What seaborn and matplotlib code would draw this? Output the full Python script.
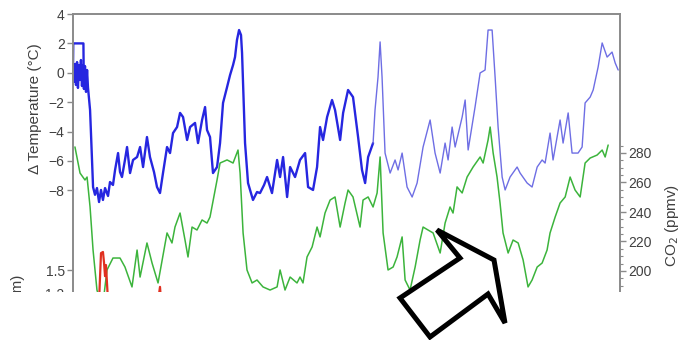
import numpy as np
import pandas as pd
import matplotlib
matplotlib.use("Agg")
import matplotlib.pyplot as plt
from matplotlib.patches import Rectangle, Polygon
from matplotlib.ticker import FixedLocator
import seaborn as sns

# Vostok-style ice core record, age in kyr before present
temp_age = [0.0, 0.2, 8.0, 8.2, 1.0, 1.6, 2.3, 3.1, 3.8, 4.6, 5.4, 6.1, 6.9, 7.6, 8.4, 9.2, 10.0,
            10.8, 11.5, 13.1, 13.8, 15.4, 16.9, 18.4, 20.0, 21.5, 23.0, 24.6, 26.9, 28.4, 30.7,
            32.3, 34.6, 36.1, 37.6, 39.9, 41.5, 43.8, 46.1, 49.2, 51.5, 53.8, 56.8, 59.1, 62.2,
            64.5, 66.8, 69.1, 72.2, 74.5, 76.8, 79.9, 82.2, 84.5, 87.6, 89.9, 93.7, 96.0, 99.1,
            101.4, 102.9, 105.2, 107.5, 110.6, 112.9, 115.2, 118.3, 120.6, 122.9, 124.4, 125.9,
            127.5, 129.0, 129.8, 132.1, 134.4, 138.2, 141.3, 143.6, 146.7, 149.0, 152.8, 156.7,
            159.0, 161.3, 164.4, 166.7, 170.5, 174.3, 178.2, 180.5, 184.3, 187.4, 189.7, 192.0,
            195.1, 198.9, 201.2, 205.1, 207.4, 211.2, 215.0, 218.9, 221.9, 224.3, 226.6, 230.4,
            231.9, 234.2, 235.8, 237.3, 239.6, 243.5, 247.3, 249.6, 252.7, 256.5, 260.4, 264.2,
            268.8, 274.2, 278.0, 281.9, 285.7, 288.0, 291.1, 293.4, 298.8, 301.1, 303.4, 308.7,
            312.6, 316.4, 318.7, 321.8, 324.1, 326.4, 329.5, 331.8, 335.6, 341.0, 343.3, 348.7,
            352.5, 356.4, 360.2, 362.5, 366.3, 368.6, 374.0, 376.3, 380.2, 383.2, 387.8, 390.9,
            393.2, 397.1, 399.4, 403.2, 406.3, 410.1, 413.9, 416.3, 418.6]
temp_val = [0.3, 2.0, 2.0, 0.2, -0.6, 0.6, -0.83, 0.73, -1.03, 0.53, -0.49, 0.87, -0.9, 0.5,
            -1.1, 0.46, -1.3, 0.19, -1.0, -2.53, -4.1, -7.77, -8.3, -7.84, -8.79, -7.97, -8.65,
            -7.84, -8.38, -7.43, -7.63, -6.61, -5.46, -6.75, -7.09, -5.93, -5.05, -6.82, -5.93,
            -5.73, -5.05, -6.41, -4.37, -5.73, -6.75, -7.77, -8.18, -6.82, -5.05, -5.46, -4.1,
            -3.69, -2.73, -3.01, -4.57, -3.69, -3.41, -4.78, -3.21, -2.33, -3.89, -4.37, -6.82,
            -6.41, -4.78, -2.05, -0.97, -0.15, 0.53, 1.07, 2.23, 2.91, 2.57, 1.35, -4.78, -7.5,
            -8.65, -8.11, -8.18, -7.63, -7.09, -8.18, -5.93, -7.09, -5.73, -8.45, -6.41, -7.09,
            -5.93, -5.46, -7.77, -7.97, -6.41, -3.69, -4.57, -3.01, -1.85, -2.53, -4.57, -2.73,
            -1.17, -1.65, -4.37, -6.61, -7.5, -5.73, -4.78, -2.53, -0.29, 2.1, -0.29, -5.46,
            -6.82, -5.93, -6.61, -5.46, -7.77, -8.45, -7.5, -5.05, -3.21, -5.46, -6.82, -4.78,
            -5.93, -3.69, -5.05, -3.01, -1.85, -5.25, -2.33, -0.01, 0.19, 2.91, 2.91, -0.29,
            -3.69, -7.09, -7.97, -7.09, -6.41, -6.82, -7.5, -7.77, -6.41, -5.93, -6.14, -4.1,
            -5.93, -3.21, -4.78, -2.73, -5.46, -5.46, -5.05, -2.05, -1.65, -1.17, 0.39, 2.03,
            1.07, 1.41, 0.67, 0.19]

co2_age = [1.5, 5.4, 9.2, 10.8, 13.1, 15.4, 18.4, 20.7, 23.8, 26.1, 30.7, 36.1, 39.9, 45.3,
           49.2, 51.5, 56.8, 60.7, 65.3, 72.2, 76.0, 78.3, 82.2, 86.0, 88.3, 91.4, 95.2, 99.1,
           102.9, 105.2, 110.6, 112.9, 118.3, 122.9, 126.7, 128.3, 130.6, 133.6, 137.5, 141.3,
           145.9, 151.3, 156.7, 159.0, 162.8, 166.7, 172.0, 174.3, 176.6, 179.7, 183.6, 187.4,
           189.7, 193.5, 197.4, 201.2, 205.1, 208.9, 211.2, 215.0, 220.4, 222.7, 226.6, 230.4,
           233.5, 235.8, 238.1, 241.9, 245.8, 248.8, 252.7, 255.0, 258.8, 262.7, 266.5, 268.8,
           272.6, 276.5, 281.9, 285.7, 289.5, 291.8, 294.9, 298.8, 302.6, 307.2, 312.6, 314.9,
           318.7, 320.3, 322.6, 325.6, 327.9, 330.2, 334.1, 337.9, 341.8, 345.6, 349.4, 352.5,
           356.4, 360.2, 364.0, 366.3, 370.2, 374.0, 377.9, 381.7, 385.5, 389.4, 393.2, 397.1,
           402.4, 406.3, 408.6, 410.9]
co2_val = [284.1, 266.4, 261.7, 263.7, 243.4, 214.2, 187.1, 180.3, 183.7, 200.7, 208.8, 208.8,
           202.7, 189.2, 214.2, 195.9, 219.0, 205.4, 191.9, 225.8, 219.0, 229.8, 239.3, 221.0,
           209.5, 229.8, 227.8, 234.6, 232.5, 236.6, 261.7, 273.2, 275.3, 273.2, 282.0, 266.4,
           225.8, 200.7, 191.9, 193.9, 189.2, 187.1, 189.2, 200.7, 187.1, 195.9, 191.9, 195.9,
           191.9, 209.5, 216.3, 229.8, 223.1, 239.3, 248.1, 250.2, 229.8, 246.1, 254.9, 250.2,
           229.8, 248.1, 250.2, 243.4, 252.9, 277.3, 225.8, 200.7, 202.7, 209.5, 223.1, 193.9,
           187.1, 202.7, 221.0, 229.8, 227.8, 225.8, 212.2, 232.5, 243.4, 239.3, 257.0, 252.9,
           263.7, 270.5, 277.3, 273.2, 288.8, 297.6, 280.0, 263.7, 246.1, 225.8, 212.2, 221.0,
           219.0, 207.5, 189.2, 193.9, 202.7, 205.4, 214.2, 225.8, 236.6, 246.1, 250.2, 263.7,
           254.9, 250.2, 273.2, 276.6, 278.6, 282.0, 277.3, 285.4]

dust_age = [10.0, 18.0, 20.0, 21.5, 23.0, 23.8, 24.6, 25.3, 26.9, 30.0, 60.0, 65.3, 66.8, 67.6, 70.0]
dust_val = [0.6, 0.9, 1.09, 1.72, 1.735, 1.60, 1.42, 1.565, 1.09, 0.7, 0.8, 1.09, 1.28, 1.09, 0.7]

temp_ticks = [-8, -6, -4, -2, 0, 2, 4]
co2_ticks = [200, 220, 240, 260, 280]
dust_ticks = [1.2, 1.5]

temp_df = pd.DataFrame({"age": temp_age, "temp": temp_val})
temp_dense = temp_df.iloc[:temp_age.index(230.4) + 1]
temp_sparse = temp_df.iloc[temp_age.index(230.4):]
co2_df = pd.DataFrame({"age": co2_age, "co2": co2_val})
dust_df = pd.DataFrame({"age": dust_age, "dust": dust_val})

sns.set_style("white")
plt.rcParams["font.family"] = ["Liberation Sans", "DejaVu Sans"]

W, H = 683, 340
fig = plt.figure(figsize=(W / 100, H / 100), dpi=100)
# axes box in pixels: left 73, right 620, top 14, bottom 300 (bottom part cropped later)
ax = fig.add_axes([73 / W, 40 / H, 547 / W, 286 / H])
ax.patch.set_alpha(0)

tick_color = "#404040"
spine_color = "#8a8a8a"

sns.lineplot(data=temp_dense, x="age", y="temp", ax=ax, color="#2626e0", lw=1.7, sort=False,
             estimator=None)
sns.lineplot(data=temp_sparse, x="age", y="temp", ax=ax, color="#6e6ee4", lw=1.0, sort=False,
             estimator=None)
ax.set_xlim(0, 420)
ax.set_ylim(4 - 286 / 14.7, 4)
ax.yaxis.set_major_locator(FixedLocator(temp_ticks))
ax.set_xticks([])
ax.set_xlabel("")
ax.set_ylabel("Δ Temperature (°C)", fontsize=11, color=tick_color)
ax.yaxis.set_label_coords(-0.057, 0.67)

ax2 = ax.twinx()
sns.lineplot(data=co2_df, x="age", y="co2", ax=ax2, color="#3cb43c", lw=1.1, sort=False,
             estimator=None)
ax2.set_ylim(280 - 147 / 1.475, 280 + 139 / 1.475)
ax2.yaxis.set_major_locator(FixedLocator(co2_ticks))
ax2.yaxis.set_minor_locator(FixedLocator(list(range(185, 290, 5))))
ax2.set_ylabel("CO$_2$ (ppmv)", fontsize=11, color=tick_color)
ax2.yaxis.set_label_coords(1.079, 0.26)

ax3 = ax.twinx()
sns.lineplot(data=dust_df, x="age", y="dust", ax=ax3, color="#e03020", lw=1.6, sort=False,
             estimator=None)
ax3.yaxis.set_ticks_position("left")
ax3.set_ylim(1.5 - 30 * 0.01304, 1.5 + 256 * 0.01304)
ax3.yaxis.set_major_locator(FixedLocator(dust_ticks))
ax3.set_yticklabels(["1.2", "1.5"])
ax3.set_ylabel("")
for s in ax3.spines.values():
    s.set_visible(False)
ax3.set_xlim(0, 420)

for a in (ax, ax2):
    for s in a.spines.values():
        s.set_color(spine_color)
        s.set_linewidth(1.2)
    a.spines["bottom"].set_visible(False)
for a in (ax, ax2, ax3):
    a.tick_params(axis="y", which="major", direction="out", length=4, width=1,
                  color=spine_color, labelsize=10, labelcolor=tick_color, pad=2)
    a.tick_params(axis="y", which="minor", direction="out", length=2, width=0.8,
                  color=spine_color)

fig.text(18 / W, 1 - 312 / H, "Dust (ppm)", rotation=90, ha="center", va="center",
         fontsize=11, color=tick_color)

# the reference is cropped below y=292
fig.patches.append(Rectangle((0, 0), 1, 48 / H, transform=fig.transFigure,
                             facecolor="white", edgecolor="none", zorder=10))

# block arrow drawn over the figure (pixel coords from top-left)
arrow_px = [(400, 298), (460, 258), (437, 230), (494, 260), (505, 323), (488, 294), (430, 337)]
arrow_pts = [(x / 100, (H - y) / 100) for x, y in arrow_px]
fig.patches.append(Polygon(arrow_pts, closed=True, transform=fig.dpi_scale_trans,
                           facecolor="white", edgecolor="black", lw=3.6, joinstyle="miter",
                           zorder=20))

fig.savefig("out.png", dpi=100)
